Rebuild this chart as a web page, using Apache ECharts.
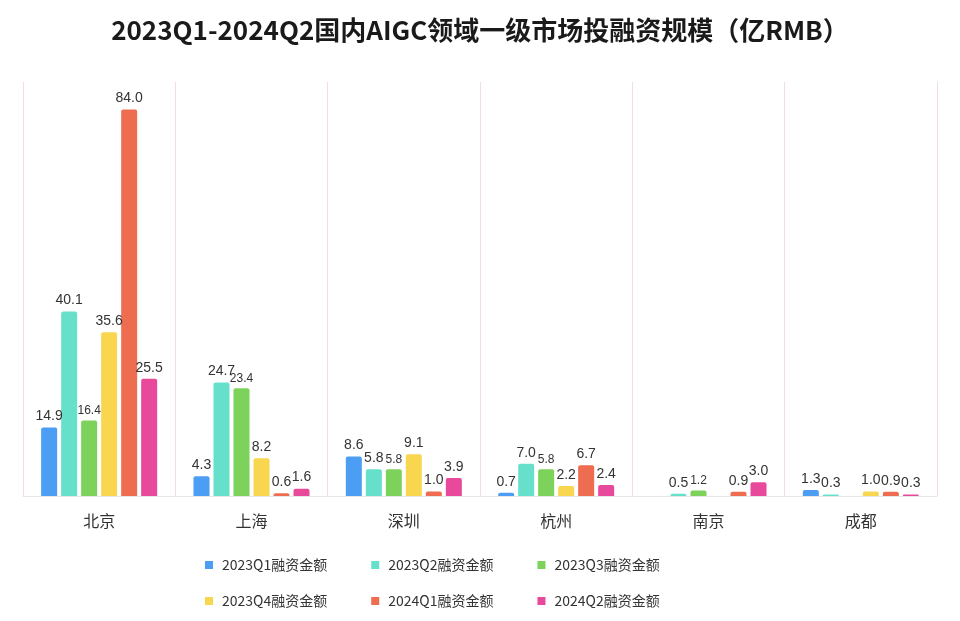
<!DOCTYPE html>
<html><head><meta charset="utf-8">
<script src="https://cdn.jsdelivr.net/npm/echarts@6/dist/echarts.min.js"></script>
<style>html,body{margin:0;padding:0;background:#fff}#c{width:960px;height:621px}</style>
</head><body><div id="c"></div>
<script>
const categories = ['北京','上海','深圳','杭州','南京','成都'];
const seriesNames = ['2023Q1融资金额','2023Q2融资金额','2023Q3融资金额','2023Q4融资金额','2024Q1融资金额','2024Q2融资金额'];
const q1_2023 = [14.9, 4.3, 8.6, 0.7, null, 1.3];
const q2_2023 = [40.1, 24.7, 5.8, 7.0, 0.5, 0.3];
const q3_2023 = [16.4, 23.4, 5.8, 5.8, 1.2, null];
const q4_2023 = [35.6, 8.2, 9.1, 2.2, null, 1.0];
const q1_2024 = [84.0, 0.6, 1.0, 6.7, 0.9, 0.9];
const q2_2024 = [25.5, 1.6, 3.9, 2.4, 3.0, 0.3];
const colors = ['#4b9ef4','#67e0cb','#7dd25b','#f8d650','#ee6c4f','#e8499b'];
const allData = [q1_2023,q2_2023,q3_2023,q4_2023,q1_2024,q2_2024];
const labelSizes = [14,14,12,14,14,14];

const chart = echarts.init(document.getElementById('c'));
chart.setOption({
  animation:false,
  title:{text:'2023Q1-2024Q2国内AIGC领域一级市场投融资规模（亿RMB）',left:'center',top:12,
    textStyle:{fontSize:26,fontWeight:'bold',color:'#1a1a1a',fontFamily:'"Noto Sans CJK SC", sans-serif'}},
  legend:[
    {data:seriesNames.slice(0,3),left:200,top:553,itemWidth:8,itemHeight:8,itemGap:44,icon:'rect',
      textStyle:{fontSize:14,color:'#333',padding:[0,0,0,4],fontFamily:'"Noto Sans CJK SC", sans-serif'}},
    {data:seriesNames.slice(3),left:200,top:589,itemWidth:8,itemHeight:8,itemGap:44,icon:'rect',
      textStyle:{fontSize:14,color:'#333',padding:[0,0,0,4],fontFamily:'"Noto Sans CJK SC", sans-serif'}}
  ],
  grid:{left:23,right:23,top:82,bottom:125},
  xAxis:{type:'category',data:categories,
    axisLine:{show:true,lineStyle:{color:'#e6e6e6'}},axisTick:{show:false},
    axisLabel:{fontSize:16,color:'#333',margin:17,fontFamily:'"Noto Sans CJK SC", sans-serif'},
    splitLine:{show:true,lineStyle:{color:'#f4dde2',width:1}}},
  yAxis:{type:'value',min:0,max:90,show:false,splitLine:{show:false}},
  series: seriesNames.map((n,i)=>({
    name:n,type:'bar',data:allData[i],barWidth:16,barGap:'25%',
    itemStyle:{color:colors[i],borderRadius:[2,2,0,0]},
    label:{show:true,position:'top',distance:4,color:'#333',fontSize:labelSizes[i],
      fontFamily:'"Liberation Sans", Arial, sans-serif',
      formatter:p=>p.value==null?'':Number(p.value).toFixed(1)}
  }))
});
</script></body></html>
